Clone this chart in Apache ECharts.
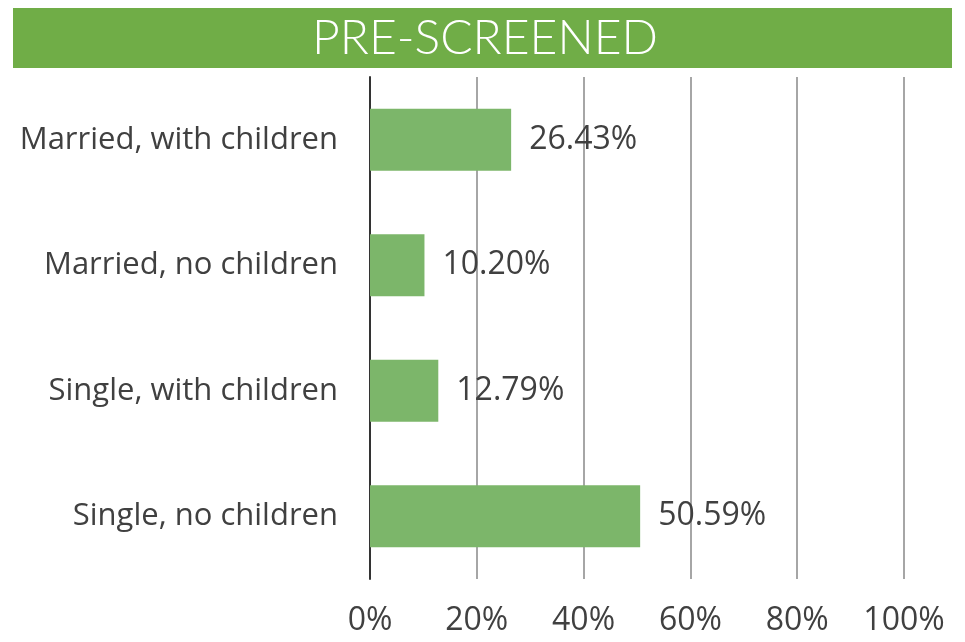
<!DOCTYPE html>
<html><head><meta charset="utf-8">
<script src="https://cdn.jsdelivr.net/npm/echarts@6/dist/echarts.min.js"></script>
<style>html,body{margin:0;padding:0;background:#fff}#c{width:965px;height:642px}</style>
</head><body><div id="c"></div>
<script>
const title = 'PRE-SCREENED';
const categories = ['Married, with children', 'Married, no children', 'Single, with children', 'Single, no children'];
const values = [26.43, 10.20, 12.79, 50.59];
const xTicks = [0, 20, 40, 60, 80, 100];

const chart = echarts.init(document.getElementById('c'));
const FONT = '"Open Sans", sans-serif';
const TFONT = 'Lato, sans-serif';
chart.setOption({
  animation: false,
  graphic: [
    {type: 'rect', shape: {x: 13, y: 8, width: 939, height: 60}, style: {fill: '#70AD47'}},
    {type: 'text', x: 485, y: 39, style: {text: title, fill: '#fff', font: '300 48px ' + TFONT, align: 'center', verticalAlign: 'middle'}}
  ],
  grid: {left: 370, right: 61, top: 77, bottom: 63, containLabel: false},
  xAxis: {
    type: 'value', min: 0, max: 100, interval: 20,
    axisLine: {show: false}, axisTick: {show: false},
    splitLine: {show: true, lineStyle: {color: '#a6a6a6', width: 2}},
    axisLabel: {formatter: v => v + '%', color: '#404040', fontSize: 32, fontFamily: FONT, margin: 26,
      customValues: xTicks}
  },
  yAxis: {
    type: 'category', data: categories, inverse: true,
    axisLine: {show: true, lineStyle: {color: '#333', width: 2}},
    axisTick: {show: false},
    axisLabel: {color: '#404040', fontSize: 31, fontFamily: FONT, margin: 32}
  },
  series: [{
    type: 'bar', data: values, barWidth: 62,
    itemStyle: {color: '#7CB66A'},
    label: {show: true, position: 'right', distance: 18, formatter: p => p.value.toFixed(2) + '%',
      color: '#404040', fontSize: 32, fontFamily: FONT}
  }]
});
</script></body></html>
